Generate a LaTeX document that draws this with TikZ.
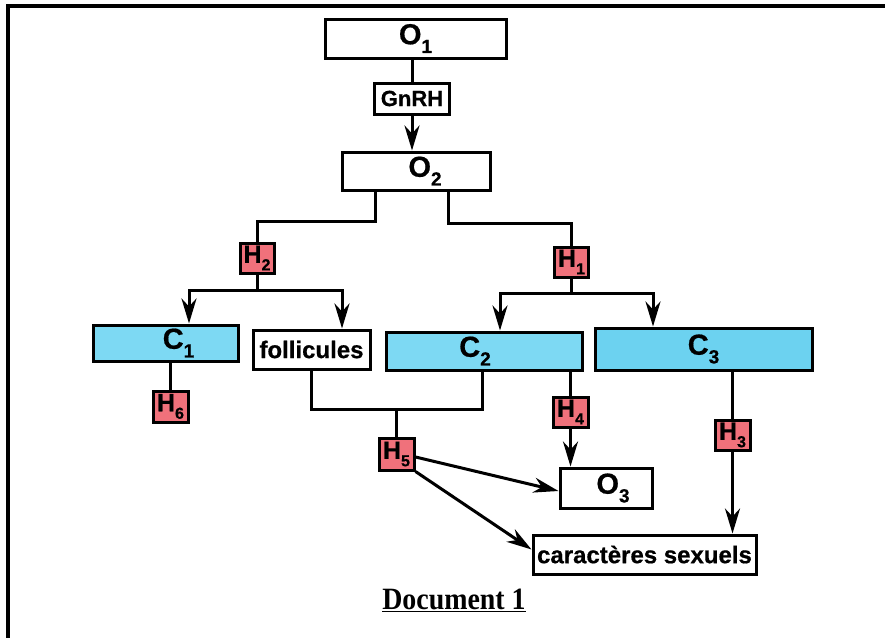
\documentclass[tikz,border=0pt]{standalone}
\usepackage{fontspec}
\setmainfont{Liberation Sans}[BoldFeatures={FakeBold=0.6}]
\newfontfamily\docfont{Liberation Serif}[BoldFeatures={FakeStretch=0.9}]
\usetikzlibrary{arrows.meta,calc}
\definecolor{hred}{HTML}{F0717B}
\definecolor{ccyan}{HTML}{7DD9F3}
\definecolor{ccyanb}{HTML}{6CD2F0}
\newcommand\bigsub[1]{\raisebox{-0.3em}{\fontsize{19}{19}\selectfont #1}}
\newcommand\hsub[1]{\raisebox{-0.3em}{\fontsize{16}{16}\selectfont #1}}
\tikzset{
  box/.style={draw, line width=3pt, inner sep=0pt, font=\bfseries\fontsize{29}{29}\selectfont},
  wbox/.style={box, fill=white, font=\bfseries\fontsize{24}{24}\selectfont},
  cbox/.style={box, fill=ccyan},
  hbox/.style={draw, line width=3pt, fill=hred, inner sep=0pt, minimum width=34pt, minimum height=30pt, font=\bfseries\fontsize{25}{25}\selectfont},
  conn/.style={line width=3pt},
  arr/.style={conn, -{Stealth[length=25pt, width=15pt, inset=8pt]}},
}
\begin{document}
\begin{tikzpicture}[x=1pt, y=-1pt]
\useasboundingbox (0,0) rectangle (885,637);
\clip (0,0) rectangle (885,637);
% outer frame
\draw[line width=3.5pt] (8,650) -- (8,6) -- (900,6);

% nodes
\node[box, minimum width=181pt, minimum height=39pt] (o1) at (415.5,38.5) {O\bigsub{1}};
\node[box, minimum width=75pt, minimum height=31pt, font=\bfseries\fontsize{22}{22}\selectfont] (gnrh) at (412,98.5) {GnRH};
\node[box, minimum width=148pt, minimum height=38pt] (o2) at (416,171) {\hspace*{18pt}O\bigsub{2}};
\node[hbox] (h2) at (257,258) {H\hsub{2}};
\node[hbox] (h1) at (571.5,262) {H\hsub{1}};
\node[cbox, minimum width=145pt, minimum height=36pt] (c1) at (165.5,343) {\hspace*{26pt}C\bigsub{1}};
\node[wbox, minimum width=117pt, minimum height=39pt] (foll) at (311.5,349.5) {follicules};
\node[cbox, minimum width=196pt, minimum height=38pt] (c2) at (484,351) {C\bigsub{2}\hspace*{18pt}};
\node[cbox, fill=ccyanb, minimum width=217pt, minimum height=42pt] (c3) at (703.5,349) {C\bigsub{3}};
\node[hbox, minimum width=35pt, minimum height=31pt] (h6) at (170.5,406.5) {H\hsub{6}};
\node[hbox, minimum width=35pt, minimum height=32pt] (h5) at (396.5,454) {H\hsub{5}};
\node[hbox, minimum width=35pt] (h4) at (570.5,412) {H\hsub{4}};
\node[box, minimum width=92pt, minimum height=40pt] (o3) at (606,488) {\hspace*{14pt}O\bigsub{3}};
\node[hbox, minimum width=35pt] (h3) at (732.5,435) {H\hsub{3}};
\node[wbox, minimum width=223pt, minimum height=39pt] (car) at (644.5,554.5) {caractères sexuels};
\node[font=\docfont\bfseries\fontsize{31}{31}\selectfont, inner sep=0pt] (doc) at (454,600) {\underline{Document 1}};

% connectors
\draw[conn] (o1.south -| gnrh.north) -- (gnrh.north);
\draw[arr] (gnrh.south) -- (gnrh.south |- o2.north);
\draw[conn] ([xshift=35pt]o2.south west) -- ++(0,30) -| (h2.north);
\draw[conn] ([xshift=-43pt]o2.south east) -- ++(0,32) -| (h1.north);
\draw[conn] (h2.south) -- ++(0,16) coordinate (h2j);
\draw[arr] (h2j) -| ([xshift=23.5pt]c1.north);
\draw[arr] (h2j) -| ([xshift=30.5pt]foll.north);
\draw[conn] (h1.south) -- ++(0,15) coordinate (h1j);
\draw[arr] (h1j) -| ([xshift=16pt]c2.north);
\draw[arr] (h1j) -| ([xshift=-50.5pt]c3.north);
\draw[conn] (h6.north |- c1.south) -- (h6.north);
\coordinate (j5) at (398,409);
\draw[conn] (foll.south) -- (foll.south |- j5) -- ([xshift=-2pt]c2.south |- j5) -- ([xshift=-2pt]c2.south);
\draw[conn] (h5.north |- j5) -- (h5.north);
\draw[conn] (h4.north |- c2.south) -- (h4.north);
\draw[arr] (h4.south) -- (h4.south |- o3.north);
\draw[arr] ([yshift=-3pt]h5.east) -- ([yshift=-3pt]o3.west);
\draw[arr] (h5.south east) -- ([yshift=5pt]car.west);
\draw[conn] (h3.north |- c3.south) -- (h3.north);
\draw[arr] (h3.south) -- (h3.south |- car.north);
\end{tikzpicture}
\end{document}
